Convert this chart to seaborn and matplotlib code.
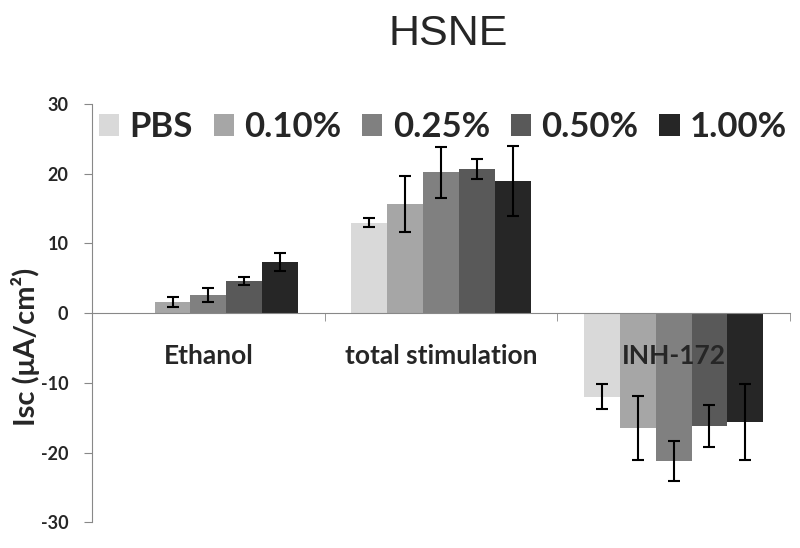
import numpy as np
import pandas as pd
import seaborn as sns
import matplotlib.pyplot as plt
from matplotlib.ticker import FixedLocator

# values
categories = ["Ethanol", "total stimulation", "INH-172"]
groups = ["PBS", "0.10%", "0.25%", "0.50%", "1.00%"]
colors = ["#d9d9d9", "#a6a6a6", "#808080", "#595959", "#262626"]

ethanol_mean = [0.0, 1.6, 2.6, 4.6, 7.3]
ethanol_err = [np.nan, 0.7, 1.0, 0.6, 1.3]
stim_mean = [13.0, 15.7, 20.2, 20.7, 19.0]
stim_err = [0.6, 4.0, 3.7, 1.4, 5.0]
inh_mean = [-12.0, -16.5, -21.2, -16.2, -15.6]
inh_err = [1.8, 4.6, 2.9, 3.0, 5.5]

means = [ethanol_mean, stim_mean, inh_mean]
errs = [ethanol_err, stim_err, inh_err]

rows = []
for cat, m_list, e_list in zip(categories, means, errs):
    for g, m, e in zip(groups, m_list, e_list):
        rows.append({"category": cat, "group": g, "value": m, "err": e})
df = pd.DataFrame(rows)

sns.set_style("white")
plt.rcParams["font.family"] = ["Lato", "DejaVu Sans"]

fig, ax = plt.subplots(figsize=(8, 5.48), dpi=100)
fig.subplots_adjust(left=0.115, right=0.9875, top=0.81, bottom=0.047)

sns.barplot(data=df, x="category", y="value", hue="group", order=categories,
            hue_order=groups, palette=colors, saturation=1, width=0.77,
            errorbar=None, ax=ax, linewidth=0)

# error bars on top of each bar, hue-major patch order
for gi, g in enumerate(groups):
    cont = ax.containers[gi]
    for ci, bar in enumerate(cont):
        sub = df[(df.group == g) & (df.category == categories[ci])].iloc[0]
        if np.isnan(sub.err):
            continue
        xc = bar.get_x() + bar.get_width() / 2
        ax.errorbar(xc, sub.value, yerr=sub.err, fmt="none", ecolor="black",
                    elinewidth=1.5, capsize=4.5, capthick=1.5, zorder=3)

ax.set_xlim(-0.5, 2.5)
ax.set_ylim(-30, 30)
ax.set_yticks([-30, -20, -10, 0, 10, 20, 30])
ax.set_yticklabels(["-30", "-20", "-10", "0", "10", "20", "30"],
                   fontsize=13, fontweight="bold")

for s in ["top", "right"]:
    ax.spines[s].set_visible(False)
ax.spines["left"].set_color("#888888")
ax.spines["bottom"].set_color("#888888")
ax.spines["bottom"].set_position(("data", 0))
ax.tick_params(axis="y", left=True, direction="out", length=6, color="#888888", pad=11)

# category labels sit on top of the bars like in the original
ax.set_axisbelow(False)
ax.xaxis.set_zorder(4)
ax.xaxis.set_minor_locator(FixedLocator([0.5, 1.5, 2.5]))
ax.tick_params(axis="x", which="minor", bottom=True, direction="out", length=6, color="#888888")
ax.tick_params(axis="x", which="major", bottom=False, pad=19)
ax.set_xticks(range(len(categories)))
ax.set_xticklabels(categories, fontsize=19, fontweight="bold")
ax.set_xlabel("")
ax.set_ylabel("Isc (μA/cm²)", fontsize=21, fontweight="bold")
ax.yaxis.set_label_coords(-0.074, 0.42)

ax.legend(loc="center left", bbox_to_anchor=(-0.01, 0.945), ncol=5, frameon=False,
          prop={"size": 25, "weight": "bold"}, handlelength=0.58, handleheight=0.58,
          handletextpad=0.3, columnspacing=0.6, borderaxespad=0)

fig.suptitle("HSNE", x=0.56, y=0.975, fontsize=31, family="Liberation Sans")

fig.savefig("out.png", dpi=100)
